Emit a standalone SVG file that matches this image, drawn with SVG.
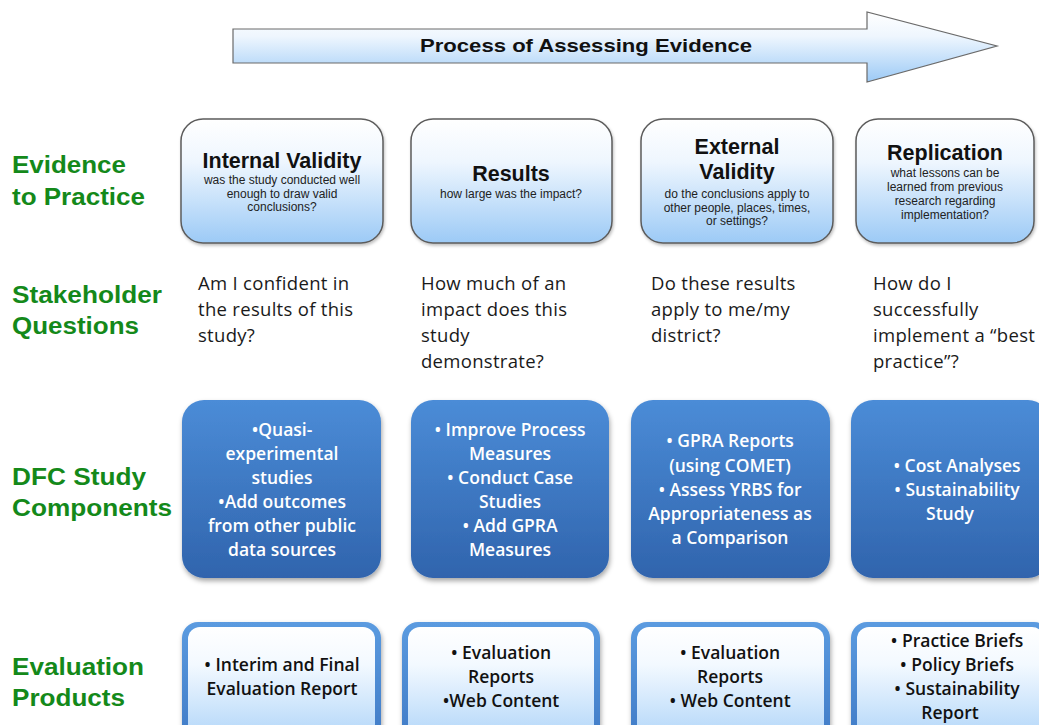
<svg xmlns="http://www.w3.org/2000/svg" width="1039" height="725" viewBox="0 0 1039 725">
  <defs>
    <linearGradient id="paleBlue" x1="0" y1="0" x2="0" y2="1">
      <stop offset="0" stop-color="#ffffff"/>
      <stop offset="0.35" stop-color="#eef6fe"/>
      <stop offset="1" stop-color="#9ccaf6"/>
    </linearGradient>
    <linearGradient id="deepBlue" x1="0" y1="0" x2="0" y2="1">
      <stop offset="0" stop-color="#4b8cd7"/>
      <stop offset="1" stop-color="#3064ad"/>
    </linearGradient>
    <linearGradient id="frameBlue" x1="0" y1="0" x2="0" y2="1">
      <stop offset="0" stop-color="#5b9be0"/>
      <stop offset="1" stop-color="#3d78c4"/>
    </linearGradient>
    <linearGradient id="productFill" x1="0" y1="0" x2="0" y2="1">
      <stop offset="0" stop-color="#ffffff"/>
      <stop offset="0.3" stop-color="#f3f9ff"/>
      <stop offset="1" stop-color="#a6d0f8"/>
    </linearGradient>
    <filter id="shadow" x="-10%" y="-10%" width="125%" height="130%">
      <feDropShadow dx="1" dy="3" stdDeviation="2.5" flood-color="#000" flood-opacity="0.35"/>
    </filter>
    <filter id="softShadow" x="-10%" y="-10%" width="125%" height="130%">
      <feDropShadow dx="1" dy="2" stdDeviation="1.5" flood-color="#000" flood-opacity="0.25"/>
    </filter>
  </defs>
  <style>
    .rowLabel { font-family: "Liberation Sans", Arial, sans-serif; font-weight: bold; font-size: 23px; fill: #14891a; }
    .question { font-family: "Open Sans", "Liberation Sans", sans-serif; font-size: 18.5px; letter-spacing: 0.3px; fill: #1a1a1a; }
    .stageBox { fill: url(#paleBlue); stroke: #5c5c5c; stroke-width: 1.5; filter: url(#softShadow); }
    .stageTitle { font-family: "Liberation Sans", Arial, sans-serif; font-weight: bold; font-size: 21.5px; fill: #111; text-anchor: middle; }
    .stageNote { font-family: "Liberation Sans", Arial, sans-serif; font-size: 12px; fill: #222; text-anchor: middle; }
    .studyBox { fill: url(#deepBlue); filter: url(#shadow); }
    .studyText { font-family: "Open Sans", "Liberation Sans", sans-serif; font-weight: 600; font-size: 17.5px; fill: #ffffff; text-anchor: middle; }
    .productFrame { fill: url(#frameBlue); filter: url(#shadow); }
    .productInner { fill: url(#productFill); }
    .productText { font-family: "Open Sans", "Liberation Sans", sans-serif; font-weight: 600; font-size: 17.5px; fill: #111; text-anchor: middle; }
    .arrowShape { fill: url(#paleBlue); stroke: #6a6a6a; stroke-width: 1.2; }
    .arrowText { font-family: "Liberation Sans", Arial, sans-serif; font-weight: bold; font-size: 19px; fill: #111; text-anchor: middle; }
  </style>

  <rect width="1039" height="725" fill="#ffffff"/>

  <!-- process arrow across the top -->
  <g id="process-arrow">
    <path class="arrowShape" d="M233,29 L867,29 L867,12 L997,46 L867,82 L867,63 L233,63 Z"/>
    <text class="arrowText" x="586" y="52" textLength="332" lengthAdjust="spacingAndGlyphs">Process of Assessing Evidence</text>
  </g>

  <!-- row labels -->
  <g id="row-labels">
    <text class="rowLabel" x="12" y="173" textLength="114" lengthAdjust="spacingAndGlyphs">Evidence</text>
    <text class="rowLabel" x="12" y="205" textLength="133" lengthAdjust="spacingAndGlyphs">to Practice</text>
    <text class="rowLabel" x="12" y="303" textLength="150" lengthAdjust="spacingAndGlyphs">Stakeholder</text>
    <text class="rowLabel" x="12" y="334" textLength="127" lengthAdjust="spacingAndGlyphs">Questions</text>
    <text class="rowLabel" x="12" y="485" textLength="134" lengthAdjust="spacingAndGlyphs">DFC Study</text>
    <text class="rowLabel" x="12" y="516" textLength="160" lengthAdjust="spacingAndGlyphs">Components</text>
    <text class="rowLabel" x="12" y="675" textLength="132" lengthAdjust="spacingAndGlyphs">Evaluation</text>
    <text class="rowLabel" x="12" y="706" textLength="113" lengthAdjust="spacingAndGlyphs">Products</text>
  </g>

  <!-- evidence stages -->
  <g id="stage-internal-validity">
    <rect class="stageBox" x="181" y="119" width="202" height="124" rx="22"/>
    <text class="stageTitle" x="282" y="168">Internal Validity</text>
    <text class="stageNote" x="282" y="184">was the study conducted well</text>
    <text class="stageNote" x="282" y="197.5">enough to draw valid</text>
    <text class="stageNote" x="282" y="211">conclusions?</text>
  </g>
  <g id="stage-results">
    <rect class="stageBox" x="411" y="119" width="201" height="124" rx="22"/>
    <text class="stageTitle" x="511" y="181">Results</text>
    <text class="stageNote" x="511" y="198">how large was the impact?</text>
  </g>
  <g id="stage-external-validity">
    <rect class="stageBox" x="641" y="119" width="192" height="124" rx="22"/>
    <text class="stageTitle" x="737" y="154">External</text>
    <text class="stageTitle" x="737" y="179">Validity</text>
    <text class="stageNote" x="737" y="198">do the conclusions apply to</text>
    <text class="stageNote" x="737" y="211.5">other people, places, times,</text>
    <text class="stageNote" x="737" y="225">or settings?</text>
  </g>
  <g id="stage-replication">
    <rect class="stageBox" x="856" y="119" width="178" height="124" rx="22"/>
    <text class="stageTitle" x="945" y="160">Replication</text>
    <text class="stageNote" x="945" y="177">what lessons can be</text>
    <text class="stageNote" x="945" y="191">learned from previous</text>
    <text class="stageNote" x="945" y="205">research regarding</text>
    <text class="stageNote" x="945" y="219">implementation?</text>
  </g>

  <!-- stakeholder questions -->
  <g id="question-internal">
    <text class="question" x="198" y="290">Am I confident in</text>
    <text class="question" x="198" y="316">the results of this</text>
    <text class="question" x="198" y="342">study?</text>
  </g>
  <g id="question-results">
    <text class="question" x="421" y="290">How much of an</text>
    <text class="question" x="421" y="316">impact does this</text>
    <text class="question" x="421" y="342">study</text>
    <text class="question" x="421" y="368">demonstrate?</text>
  </g>
  <g id="question-external">
    <text class="question" x="651" y="290">Do these results</text>
    <text class="question" x="651" y="316">apply to me/my</text>
    <text class="question" x="651" y="342">district?</text>
  </g>
  <g id="question-replication">
    <text class="question" x="873" y="290">How do I</text>
    <text class="question" x="873" y="316">successfully</text>
    <text class="question" x="873" y="342">implement a “best</text>
    <text class="question" x="873" y="368">practice”?</text>
  </g>

  <!-- DFC study components -->
  <g id="study-internal">
    <rect class="studyBox" x="182" y="400" width="199" height="178" rx="22"/>
    <text class="studyText" x="282" y="436">•Quasi-</text>
    <text class="studyText" x="282" y="460">experimental</text>
    <text class="studyText" x="282" y="484">studies</text>
    <text class="studyText" x="282" y="508">•Add outcomes</text>
    <text class="studyText" x="282" y="532">from other public</text>
    <text class="studyText" x="282" y="556">data sources</text>
  </g>
  <g id="study-results">
    <rect class="studyBox" x="411" y="400" width="198" height="178" rx="22"/>
    <text class="studyText" x="510" y="436">• Improve Process</text>
    <text class="studyText" x="510" y="460">Measures</text>
    <text class="studyText" x="510" y="484">• Conduct Case</text>
    <text class="studyText" x="510" y="508">Studies</text>
    <text class="studyText" x="510" y="532">• Add GPRA</text>
    <text class="studyText" x="510" y="556">Measures</text>
  </g>
  <g id="study-external">
    <rect class="studyBox" x="631" y="400" width="199" height="178" rx="22"/>
    <text class="studyText" x="730" y="447">• GPRA Reports</text>
    <text class="studyText" x="730" y="472">(using COMET)</text>
    <text class="studyText" x="730" y="496">• Assess YRBS for</text>
    <text class="studyText" x="730" y="520">Appropriateness as</text>
    <text class="studyText" x="730" y="544">a Comparison</text>
  </g>
  <g id="study-replication">
    <rect class="studyBox" x="851" y="400" width="199" height="178" rx="22"/>
    <text class="studyText" x="957" y="472">• Cost Analyses</text>
    <text class="studyText" x="957" y="496">• Sustainability</text>
    <text class="studyText" x="950" y="520">Study</text>
  </g>

  <!-- evaluation products -->
  <g id="product-internal">
    <rect class="productFrame" x="182" y="622" width="199" height="130" rx="16"/>
    <rect class="productInner" x="188" y="627" width="187" height="125" rx="12"/>
    <text class="productText" x="282" y="671">• Interim and Final</text>
    <text class="productText" x="282" y="695">Evaluation Report</text>
  </g>
  <g id="product-results">
    <rect class="productFrame" x="402" y="622" width="198" height="130" rx="16"/>
    <rect class="productInner" x="408" y="627" width="186" height="125" rx="12"/>
    <text class="productText" x="501" y="659">• Evaluation</text>
    <text class="productText" x="501" y="683">Reports</text>
    <text class="productText" x="501" y="707">•Web Content</text>
  </g>
  <g id="product-external">
    <rect class="productFrame" x="631" y="622" width="199" height="130" rx="16"/>
    <rect class="productInner" x="637" y="627" width="187" height="125" rx="12"/>
    <text class="productText" x="730" y="659">• Evaluation</text>
    <text class="productText" x="730" y="683">Reports</text>
    <text class="productText" x="730" y="707">• Web Content</text>
  </g>
  <g id="product-replication">
    <rect class="productFrame" x="851" y="622" width="199" height="130" rx="16"/>
    <rect class="productInner" x="857" y="627" width="187" height="125" rx="12"/>
    <text class="productText" x="957" y="647">• Practice Briefs</text>
    <text class="productText" x="957" y="671">• Policy Briefs</text>
    <text class="productText" x="957" y="695">• Sustainability</text>
    <text class="productText" x="950" y="719">Report</text>
  </g>

  <!-- no connectors between nodes -->
  <g id="connectors"/>
</svg>
